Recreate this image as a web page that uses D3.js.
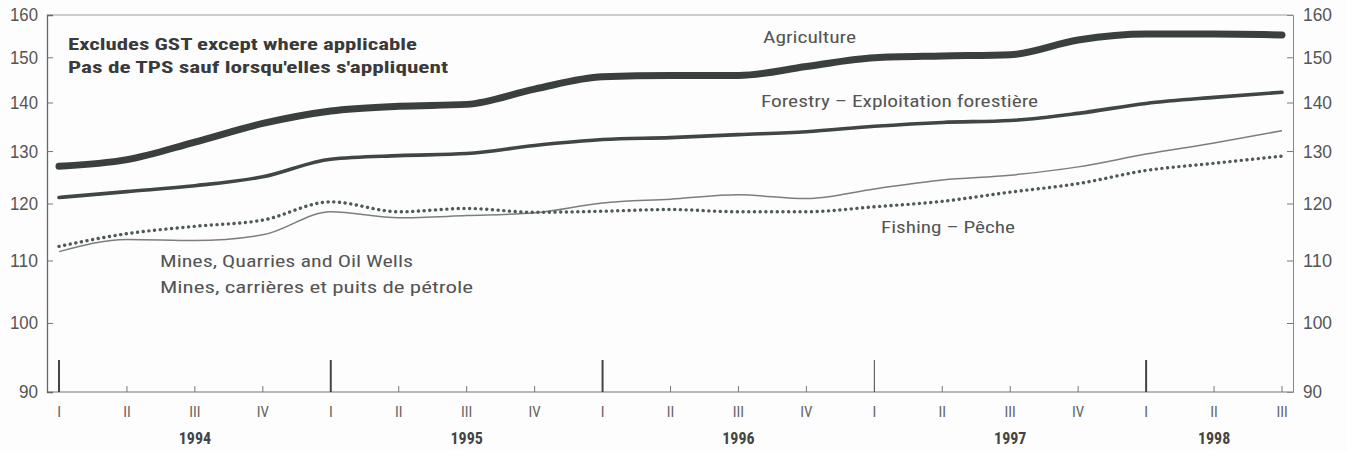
<!DOCTYPE html>
<html>
<head>
<meta charset="utf-8">
<script src="https://cdn.jsdelivr.net/npm/d3@7"></script>
<style>
  html, body { margin: 0; padding: 0; background: #fdfdfd; }
  svg { display: block; }
  text { font-family: "Liberation Sans Narrow", "Roboto Condensed", "DejaVu Sans Condensed", "Liberation Sans", sans-serif; }
  svg text.num { font-family: "Liberation Sans", Arial, sans-serif; }
</style>
</head>
<body>
<svg id="chart" width="1347" height="451"></svg>
<script>
// ---- data ----
const quarterLabels = ["I","II","III","IV","I","II","III","IV","I","II","III","IV","I","II","III","IV","I","II","III"];
const years = ["1994","1995","1996","1997","1998"];
const yTicks = [90,100,110,120,130,140,150,160];

const agriculture = [127.0,128.3,131.8,135.6,138.2,139.2,139.6,142.9,145.6,145.9,145.9,147.9,149.9,150.3,150.6,154.0,155.4,155.4,155.2];
const forestry    = [121.1,122.2,123.3,125.0,128.4,129.1,129.5,131.1,132.3,132.7,133.3,133.9,135.0,135.8,136.2,137.7,139.8,141.1,142.2];
const fishing     = [112.4,114.6,115.9,117.0,120.3,118.5,119.1,118.4,118.6,118.9,118.5,118.5,119.4,120.4,122.1,123.7,126.2,127.6,129.0];
const mines       = [111.5,113.6,113.4,114.4,118.5,117.4,117.8,118.3,120.1,120.8,121.6,120.9,122.7,124.4,125.3,126.9,129.4,131.6,134.1];

(function () {
// ---- layout ----
const svg = d3.select("#chart");
const pL = 47, pR = 1293, pT = 15, pB = 392;
const x = d3.scaleLinear().domain([0, quarterLabels.length - 1]).range([59, 1282]);
const y = d3.scaleLog().domain([90, 160]).range([pB, pT]);

// frame
svg.append("line").attr("x1", pL).attr("x2", pR).attr("y1", pT).attr("y2", pT)
  .attr("stroke", "#9a9a9a").attr("stroke-width", 1);
svg.append("line").attr("x1", pL).attr("x2", pR).attr("y1", pB).attr("y2", pB)
  .attr("stroke", "#777").attr("stroke-width", 1.2);

// left axis
const yAxisL = d3.axisRight(y).tickValues(yTicks).tickSize(6).tickFormat("");
const gL = svg.append("g").attr("transform", `translate(${pL},0)`).call(yAxisL);
gL.select(".domain").attr("stroke", "#666").attr("stroke-width", 1.3);
gL.selectAll(".tick line").attr("stroke", "#777");
gL.selectAll(".tick").filter(d => d === 90 || d === 160).select("line").remove();
svg.append("g").selectAll("text").data(yTicks).join("text")
  .attr("class", "num")
  .attr("x", 38).attr("y", d => y(d)).attr("dy", "0.36em")
  .attr("text-anchor", "end").attr("font-size", 18).attr("fill", "#555")
  .attr("textLength", d => d >= 100 ? 28 : 19).attr("lengthAdjust", "spacingAndGlyphs")
  .text(d => d);

// right axis
const yAxisR = d3.axisLeft(y).tickValues(yTicks).tickSize(6).tickFormat("");
const gR = svg.append("g").attr("transform", `translate(${pR},0)`).call(yAxisR);
gR.select(".domain").attr("stroke", "#888").attr("stroke-width", 1);
gR.selectAll(".tick line").attr("stroke", "#777");
gR.selectAll(".tick").filter(d => d === 90 || d === 160).select("line").remove();
svg.append("g").selectAll("text").data(yTicks).join("text")
  .attr("class", "num")
  .attr("x", 1303).attr("y", d => y(d)).attr("dy", "0.36em")
  .attr("text-anchor", "start").attr("font-size", 18).attr("fill", "#555")
  .attr("textLength", d => d >= 100 ? 29 : 19).attr("lengthAdjust", "spacingAndGlyphs")
  .text(d => d);

// x ticks
const qIdx = d3.range(quarterLabels.length);
svg.append("g").selectAll("line").data(qIdx).join("line")
  .attr("x1", d => x(d)).attr("x2", d => x(d))
  .attr("y1", pB).attr("y2", d => (d % 4 === 0) ? pB - 32 : pB - 6)
  .attr("stroke", d => (d % 4 === 0) ? "#444" : "#777")
  .attr("stroke-width", d => (d % 4 === 0) ? (d === 12 ? 1 : 2) : 1);

svg.append("g").selectAll("text").data(qIdx).join("text")
  .attr("x", d => x(d)).attr("y", 417)
  .attr("text-anchor", "middle").attr("font-size", 15).attr("fill", "#666")
  .text(d => quarterLabels[d]);

svg.append("g").selectAll("text").data(years).join("text")
  .attr("x", (d, i) => {
    const s = i * 4, e = Math.min(s + 4, quarterLabels.length - 1);
    return (x(s) + x(e)) / 2;
  })
  .attr("y", 444).attr("text-anchor", "middle").attr("font-size", 16)
  .attr("font-weight", "bold").attr("fill", "#444")
  .text(d => d);

// lines
const line = d3.line().x((d, i) => x(i)).y(d => y(d)).curve(d3.curveMonotoneX);

svg.append("path").datum(mines).attr("d", line)
  .attr("fill", "none").attr("stroke", "#7a7f7c").attr("stroke-width", 1.5);
svg.append("path").datum(fishing).attr("d", line)
  .attr("fill", "none").attr("stroke", "#4e5b54").attr("stroke-width", 3.4)
  .attr("stroke-dasharray", "0.1,5.6").attr("stroke-linecap", "round");
svg.append("path").datum(forestry).attr("d", line)
  .attr("fill", "none").attr("stroke", "#3f4645").attr("stroke-width", 3.6)
  .attr("stroke-linecap", "round");
svg.append("path").datum(agriculture).attr("d", line)
  .attr("fill", "none").attr("stroke", "#3a403f").attr("stroke-width", 7)
  .attr("stroke-linecap", "round");

// annotations
function label(txt, xx, yy, w, opts = {}) {
  const t = svg.append("text").attr("x", xx).attr("y", yy)
    .attr("font-size", opts.size || 16)
    .attr("font-weight", opts.bold ? "bold" : "normal")
    .attr("fill", opts.fill || "#555")
    .text(txt);
  if (w) t.attr("textLength", w).attr("lengthAdjust", "spacingAndGlyphs");
  return t;
}
label("Excludes GST except where applicable", 68, 50, 349, {bold: true, fill: "#3a3a3a", size: 16});
label("Pas de TPS sauf lorsqu'elles s'appliquent", 68, 73, 380, {bold: true, fill: "#3a3a3a", size: 16});
label("Agriculture", 763, 43, 93);
label("Forestry – Exploitation forestière", 761, 107, 277);
label("Fishing – Pêche", 881, 233, 134);
label("Mines, Quarries and Oil Wells", 160, 267, 253);
label("Mines, carrières et puits de pétrole", 160, 293, 313);
})();
</script>
</body>
</html>
